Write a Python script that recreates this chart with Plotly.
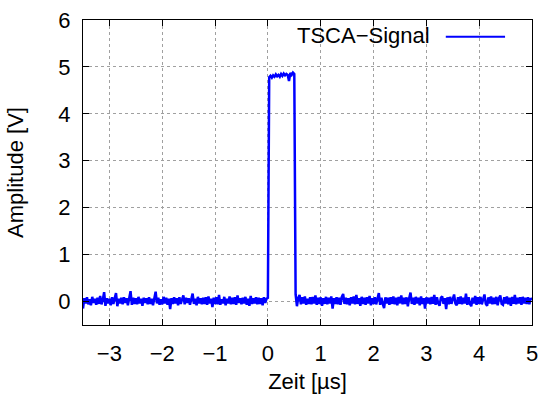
import plotly.graph_objects as go

# baseline noise before the pulse, t = -3.5 ... -0.025 us (step 0.025)
pre_vals = [
    -0.15, 0.07, -0.04, 0.09, -0.06, 0.05, -0.08, 0.10, -0.03, 0.06,
    -0.07, 0.08, -0.05, 0.12, -0.06, 0.04, 0.20, -0.09, 0.07, -0.04,
    0.06, -0.08, 0.09, -0.05, 0.07, 0.18, -0.10, 0.06, -0.04, 0.08,
    -0.06, 0.09, -0.03, 0.07, -0.08, 0.05, 0.22, -0.07, 0.08, -0.05,
    0.07, -0.06, 0.10, -0.04, 0.06, -0.09, 0.08, -0.03, 0.07, -0.06,
    0.09, -0.05, 0.06, -0.08, 0.07, 0.21, -0.04, 0.08, -0.07, 0.05,
    -0.06, 0.10, -0.04, 0.08, -0.07, 0.06, -0.16, 0.07, -0.05, 0.09,
    -0.04, 0.07, -0.08, 0.09, -0.05, 0.06, 0.13, -0.06, 0.08, -0.03,
    0.07, -0.07, 0.09, 0.17, -0.05, 0.06, -0.08, 0.10, -0.04, 0.07,
    -0.06, 0.08, -0.05, 0.09, -0.07, 0.11, -0.04, 0.06, -0.12, 0.08,
    -0.05, 0.09, -0.06, 0.14, -0.07, 0.05, -0.04, 0.10, -0.08, 0.06,
    -0.04, 0.11, -0.06, 0.08, -0.05, 0.09, -0.07, 0.13, -0.03, 0.07,
    -0.06, 0.08, -0.04, 0.10, -0.07, 0.06, -0.09, 0.12, -0.05, 0.07,
    -0.04, 0.09, -0.06, 0.08, -0.05, 0.07, -0.08, 0.09, -0.03, 0.06,
]

# pulse region, t = 0.0 ... 0.525 us (step 0.025)
pulse_vals = [
    0.08, 4.78, 4.81, 4.77, 4.82, 4.79, 4.84, 4.80, 4.83, 4.79, 4.85,
    4.81, 4.86, 4.82, 4.85, 4.83, 4.70, 4.87, 4.83, 4.88, 4.85, 0.15,
]

# baseline noise after the pulse, t = 0.55 ... 5.0 us (step 0.025)
post_vals = [
    -0.10, 0.08, 0.14, -0.06, 0.09, -0.04, 0.11, -0.07, 0.06, -0.05,
    0.09, -0.06, 0.10, -0.04, 0.13, -0.07, 0.08, -0.05, 0.09, -0.09,
    0.07, -0.05, 0.10, -0.06, 0.08, -0.04, 0.11, -0.15, 0.07, -0.05,
    0.09, -0.06, 0.08, -0.07, 0.10, 0.16, -0.05, 0.08, -0.06, 0.07,
    -0.08, 0.09, -0.04, 0.11, -0.06, 0.14, -0.05, 0.07, -0.09, 0.10,
    -0.05, 0.08, -0.07, 0.09, -0.04, 0.12, -0.08, 0.07, -0.05, 0.09,
    -0.06, 0.10, 0.18, -0.07, 0.08, -0.05, -0.14, 0.09, -0.04, 0.08,
    -0.07, 0.09, -0.05, 0.11, -0.06, 0.08, -0.08, 0.10, -0.04, 0.13,
    -0.06, 0.08, -0.05, 0.09, -0.10, 0.07, 0.19, -0.05, 0.08, -0.07,
    0.10, -0.04, 0.08, -0.08, 0.11, -0.05, 0.07, -0.15, 0.09, -0.04,
    0.08, -0.06, 0.10, -0.05, 0.14, -0.07, 0.09, -0.04, -0.09, 0.08,
    0.11, -0.05, 0.07, -0.16, 0.09, -0.06, 0.10, -0.05, 0.08, 0.15,
    -0.04, -0.08, 0.09, -0.05, 0.11, -0.06, 0.08, -0.04, 0.17, -0.07,
    0.09, -0.05, -0.10, 0.08, -0.04, 0.12, -0.07, 0.09, -0.05, 0.10,
    -0.06, 0.08, 0.15, -0.05, -0.09, 0.09, -0.04, 0.11, -0.06, 0.08,
    -0.05, 0.10, -0.08, 0.07, 0.13, -0.05, -0.07, 0.09, -0.04, 0.11,
    -0.06, 0.08, -0.09, 0.10, -0.05, 0.14, -0.06, 0.08, -0.04, 0.09,
    -0.07, 0.10, -0.04, 0.08, -0.05, 0.09, -0.06, 0.07, 0.04,
]

dt = 0.025
t_start = -3.5
values = pre_vals + pulse_vals + post_vals
times = [round(t_start + i * dt, 4) for i in range(len(values))]

x_ticks = [-3, -2, -1, 0, 1, 2, 3, 4, 5]
y_ticks = [0, 1, 2, 3, 4, 5, 6]
series_name = "TSCA\u2212Signal"

font = dict(family="Liberation Sans, Arial, sans-serif", size=22, color="black")

fig = go.Figure()
fig.add_trace(go.Scatter(x=times, y=values, mode="lines",
                         line=dict(color="#0000ff", width=2.5),
                         name=series_name, showlegend=False))

axis_common = dict(
    showline=True, linecolor="black", linewidth=1, mirror="allticks",
    ticks="inside", ticklen=6, tickcolor="black", tickwidth=1,
    showgrid=True, gridcolor="#a0a0a0", griddash="dot", gridwidth=1,
    zeroline=False, tickfont=font, automargin=False,
)

fig.update_xaxes(range=[-3.5, 5], tickvals=x_ticks,
                 ticklabelstandoff=9,
                 title=dict(text="Zeit [\u00b5s]", font=font, standoff=9),
                 **axis_common)
fig.update_yaxes(range=[-0.5, 6], tickvals=y_ticks,
                 ticklabelstandoff=7,
                 title=dict(text="Amplitude [V]", font=font, standoff=28),
                 **axis_common)

# gnuplot-style key: text then line sample at right
fig.add_annotation(xref="paper", yref="paper", x=0.773, y=0.950,
                   text=series_name, showarrow=False, xanchor="right",
                   yanchor="middle", font=font, xshift=2)
fig.add_shape(type="line", xref="paper", yref="paper",
              x0=0.808, x1=0.940, y0=0.945, y1=0.945,
              line=dict(color="#0000ff", width=2))

fig.update_layout(
    width=541, height=394,
    margin=dict(l=83, r=9, t=20, b=69, autoexpand=False),
    paper_bgcolor="white", plot_bgcolor="white",
    font=font, showlegend=False,
)

fig.write_html("out.html")
